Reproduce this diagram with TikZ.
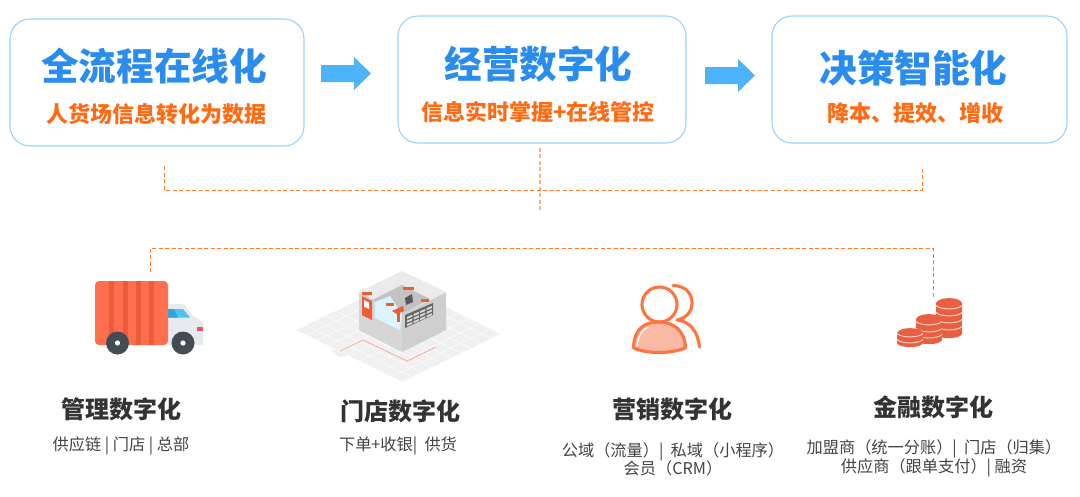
\documentclass[tikz,border=0pt]{standalone}
\usepackage{fontspec}
\setmainfont{Noto Sans CJK SC}
\usetikzlibrary{calc}
\definecolor{boxline}{HTML}{9AD4FA}
\definecolor{titleblue}{HTML}{2A8DEE}
\definecolor{suborange}{HTML}{FF6A13}
\definecolor{arrowblue}{HTML}{4DB4FB}
\definecolor{dashor}{HTML}{FF7A2A}
\definecolor{dashlight}{HTML}{FBB184}
\definecolor{headdark}{HTML}{333333}
\definecolor{smalltxt}{HTML}{444444}
\definecolor{truckred}{HTML}{FF6F4E}
\definecolor{truckdark}{HTML}{EC5C3C}
\definecolor{cabgrey}{HTML}{E6E9EE}
\definecolor{cabglass}{HTML}{4CC3EC}
\definecolor{cabglassb}{HTML}{2FA4DE}
\definecolor{wheeldark}{HTML}{434B55}
\definecolor{lampred}{HTML}{EE5068}
\definecolor{coinred}{HTML}{E85F42}
\definecolor{coinline}{HTML}{FAD2C8}
\definecolor{personor}{HTML}{FF7440}
\definecolor{personfill}{HTML}{F9B9A3}
\definecolor{storeorange}{HTML}{EE5C34}
\tikzset{
 x=1pt,y=-1pt,
 stagebox/.style={draw=boxline,line width=1.1pt,rounded corners=20pt,fill=white,inner sep=0pt},
 bigtitle/.style={text=titleblue,font=\fontsize{37.6}{37.6}\selectfont\bfseries,inner sep=0pt},
 subtitle/.style={text=suborange,font=\fontsize{22}{22}\selectfont\bfseries,inner sep=0pt},
 heading/.style={text=headdark,font=\fontsize{24}{24}\selectfont\bfseries,inner sep=0pt},
 smalltext/.style={text=smalltxt,font=\fontsize{16.2}{18.5}\selectfont,inner sep=0pt,align=center},
 flowarrow/.style={fill=arrowblue,draw=none},
 dashlink/.style={draw=dashor,line width=0.8pt,dash pattern=on 4pt off 2.5pt},
 dashfaint/.style={draw=dashlight,line width=1.3pt,dash pattern=on 4pt off 2.5pt},
 personline/.style={draw=personor,line width=3.1pt,line cap=round,line join=round},
 coinrim/.style={draw=coinline,line width=1pt},
}
\begin{document}
\begin{tikzpicture}
\useasboundingbox (0,0) rectangle (1080,496);
\fill[white] (0,0) rectangle (1080,496);

% stage boxes
\node[stagebox,minimum width=294pt,minimum height=127pt] (b1) at (157,82.5) {};
\node[stagebox,minimum width=288pt,minimum height=127pt] (b2) at (542,79.5) {};
\node[stagebox,minimum width=295pt,minimum height=127pt] (b3) at (919.5,79.5) {};
\node[bigtitle] (t1) at (154,66) {全流程在线化};
\node[subtitle] (s1) at (156.5,114) {人货场信息转化为数据};
\node[bigtitle] (t2) at (538.5,64) {经营数字化};
\node[subtitle] (s2) at (538,112) {信息实时掌握+在线管控};
\node[bigtitle] (t3) at (913.5,68) {决策智能化};
\node[subtitle] (s3) at (915,113) {降本、提效、增收};

% flow arrows
\fill[flowarrow] (321,65)--(354,65)--(354,57)--(371,73.5)--(354,90)--(354,82)--(321,82)--cycle;
\fill[flowarrow] (705,67)--(738,67)--(738,59)--(755,75.5)--(738,92)--(738,84)--(705,84)--cycle;

% dashed connectors
\coordinate (upL) at (164,166);
\coordinate (upLc) at (164,190);
\coordinate (upR) at (922,166);
\coordinate (upRc) at (922,190);
\coordinate (midEnd) at (540,211);
\coordinate (lowL) at (150,272);
\coordinate (lowLc) at (150,248);
\coordinate (lowR) at (933,298);
\coordinate (lowRc) at (933,248);
\draw[dashfaint,shorten <=4pt] (b2.south -| midEnd) -- (midEnd);
\draw[dashlink] (upL) -- (upLc) -- (upRc) -- (upR);
\draw[dashlink] (lowL) -- (lowLc) -- (lowRc) -- (lowR);

% truck
\fill[cabgrey] (168,304)--(184,304)--(192,315)--(203,322)--(203,345)--(168,345)--cycle;
\fill[cabglass] (168,309)--(183,309)--(190,317.5)--(168,317.5)--cycle;
\fill[cabglassb] (168,309)--(174,309)--(178,317.5)--(168,317.5)--cycle;
\fill[lampred] (197,326.5) rectangle (203,331);
\fill[truckred] (95,285) arc[start angle=180,end angle=270,radius=4] -- (164,281) arc[start angle=270,end angle=360,radius=4] -- (168,341) arc[start angle=0,end angle=90,radius=4] -- (99,345) arc[start angle=90,end angle=180,radius=4] -- cycle;
\foreach \sx in {109,122.5,136,149}{\fill[truckdark] (\sx,281) rectangle (\sx+5,345);}
\foreach \wx in {117.5,183}{\fill[wheeldark] (\wx,343) circle (11.5); \fill[white] (\wx,343) circle (2.6);}

% store floor
\fill[black!6] (296,330)--(395,282)--(501,334)--(402,382)--cycle;
\fill[black!6] (331,350)--(346,350)--(346,356)--(339,357)--cycle;
\begin{scope}
\clip (296,330)--(395,282)--(501,334)--(402,382)--cycle;
\foreach \i in {0,...,10}{
 \draw[white,line width=.4pt] ($(296,330)!\i/10!(395,282)$) -- ($(402,382)!\i/10!(501,334)$);
 \draw[white,line width=.4pt] ($(296,330)!\i/10!(402,382)$) -- ($(395,282)!\i/10!(501,334)$);
}
\end{scope}
\draw[truckred!70!white,line width=.6pt] (340,351)--(363,340)--(407,361)--(436,347);
% store building
\fill[black!16] (359,292)--(402,314)--(402,352)--(359,330)--cycle;
\fill[black!19] (402,314)--(446,292)--(446,330)--(402,352)--cycle;
\fill[black!8] (359,292)--(402,271)--(446,292)--(402,314)--cycle;
\fill[black!24] (372,300)--(402,285)--(430,299)--(402,314)--cycle;
\fill[cyan!14!white] (375,302)--(390,296)--(402,314)--(400,330)--(375,318)--cycle;
% door, kiosk, shelves
\fill[storeorange] (362,296)--(372,301)--(372,320)--(362,315)--cycle;
\fill[white] (364,300)--(369,302.5)--(369,309)--(364,306.5)--cycle;
\fill[storeorange] (392,311)--(403,306)--(404,311)--(397,314)--cycle;
\fill[storeorange] (397,312) rectangle (400,322);
\fill[black!65] (405,298)--(412,294)--(413,302)--(406,305)--cycle;
\fill[black!60] (405,315)--(433,303)--(433,315)--(405,328)--cycle;
\foreach \r in {0,1,2}{\foreach \c in {0,1,2,3}{
 \fill[white!85!black] ($(407,317)+(\c*6.5,-\c*2.9)+(0,\r*3.6)$) -- ++(5.3,-2.3) -- ++(0,2) -- ++(-5.3,2.3) -- cycle;}}
\foreach \lx/\ly/\lw in {362/292/10,386/303/8,403/287/11,421/299/8}{\fill[storeorange] (\lx,\ly) rectangle (\lx+\lw,\ly+3);}

% person
\fill[personfill] (633.5,348) .. controls (634,328) and (645,322) .. (659,322) .. controls (673,322) and (685,330) .. (685.5,348) .. controls (670,354) and (648,354) .. (633.5,348) -- cycle;
\draw[white,line width=1.4pt,line cap=round] (637,346) .. controls (638,336) and (642,330) .. (648,327);
\draw[personline] (659.5,304.5) circle (17.5);
\draw[personline] (633.5,348) .. controls (634,328) and (645,322) .. (659,322) .. controls (673,322) and (685,330) .. (685.5,348) .. controls (670,354) and (648,354) .. (633.5,348) -- cycle;
\draw[personline] (673,285.5) .. controls (688,286) and (692,296) .. (692,303) .. controls (692,312) and (686,318) .. (677,320) .. controls (690,321) and (698,332) .. (699.5,347);

% coins: stack left x / top y / bottom y / rim positions
\foreach \cx/\ctop/\cbot/\rims in {
 936/298/338/{309,316,323,330},
 916/314/344/{325,332,338},
 897/328/347/{337,343}}{
 \fill[coinred] (\cx,\ctop+5) .. controls (\cx+2,\ctop-1.5) and (\cx+24,\ctop-1.5) .. (\cx+26,\ctop+5)
   -- (\cx+26,\cbot-4) .. controls (\cx+24,\cbot+1.5) and (\cx+2,\cbot+1.5) .. (\cx,\cbot-4) -- cycle;
 \foreach \ry in \rims {
   \draw[coinrim] (\cx,\ry-3.5) .. controls (\cx+4,\ry+1) and (\cx+22,\ry+1) .. (\cx+26,\ry-3.5);
 }
}

% labels
\node[heading] (h1) at (121,409) {管理数字化};
\node[heading] (h2) at (400.5,411) {门店数字化};
\node[heading] (h3) at (672.5,409) {营销数字化};
\node[heading] (h4) at (933,407) {金融数字化};
\node[smalltext] (d1) at (121,445.5) {供应链 | 门店 | 总部};
\node[smalltext] (d2) at (398,445.5) {下单+收银|\ \ 供货};
\node[smalltext] (d3) at (673,459.5) {公域（流量）|\ \ 私域（小程序）\\会员（CRM）};
\node[smalltext] (d4) at (934,458.5) {加盟商（统一分账）|\ \ 门店（归集）\\供应商（跟单支付）| 融资};
\end{tikzpicture}
\end{document}
